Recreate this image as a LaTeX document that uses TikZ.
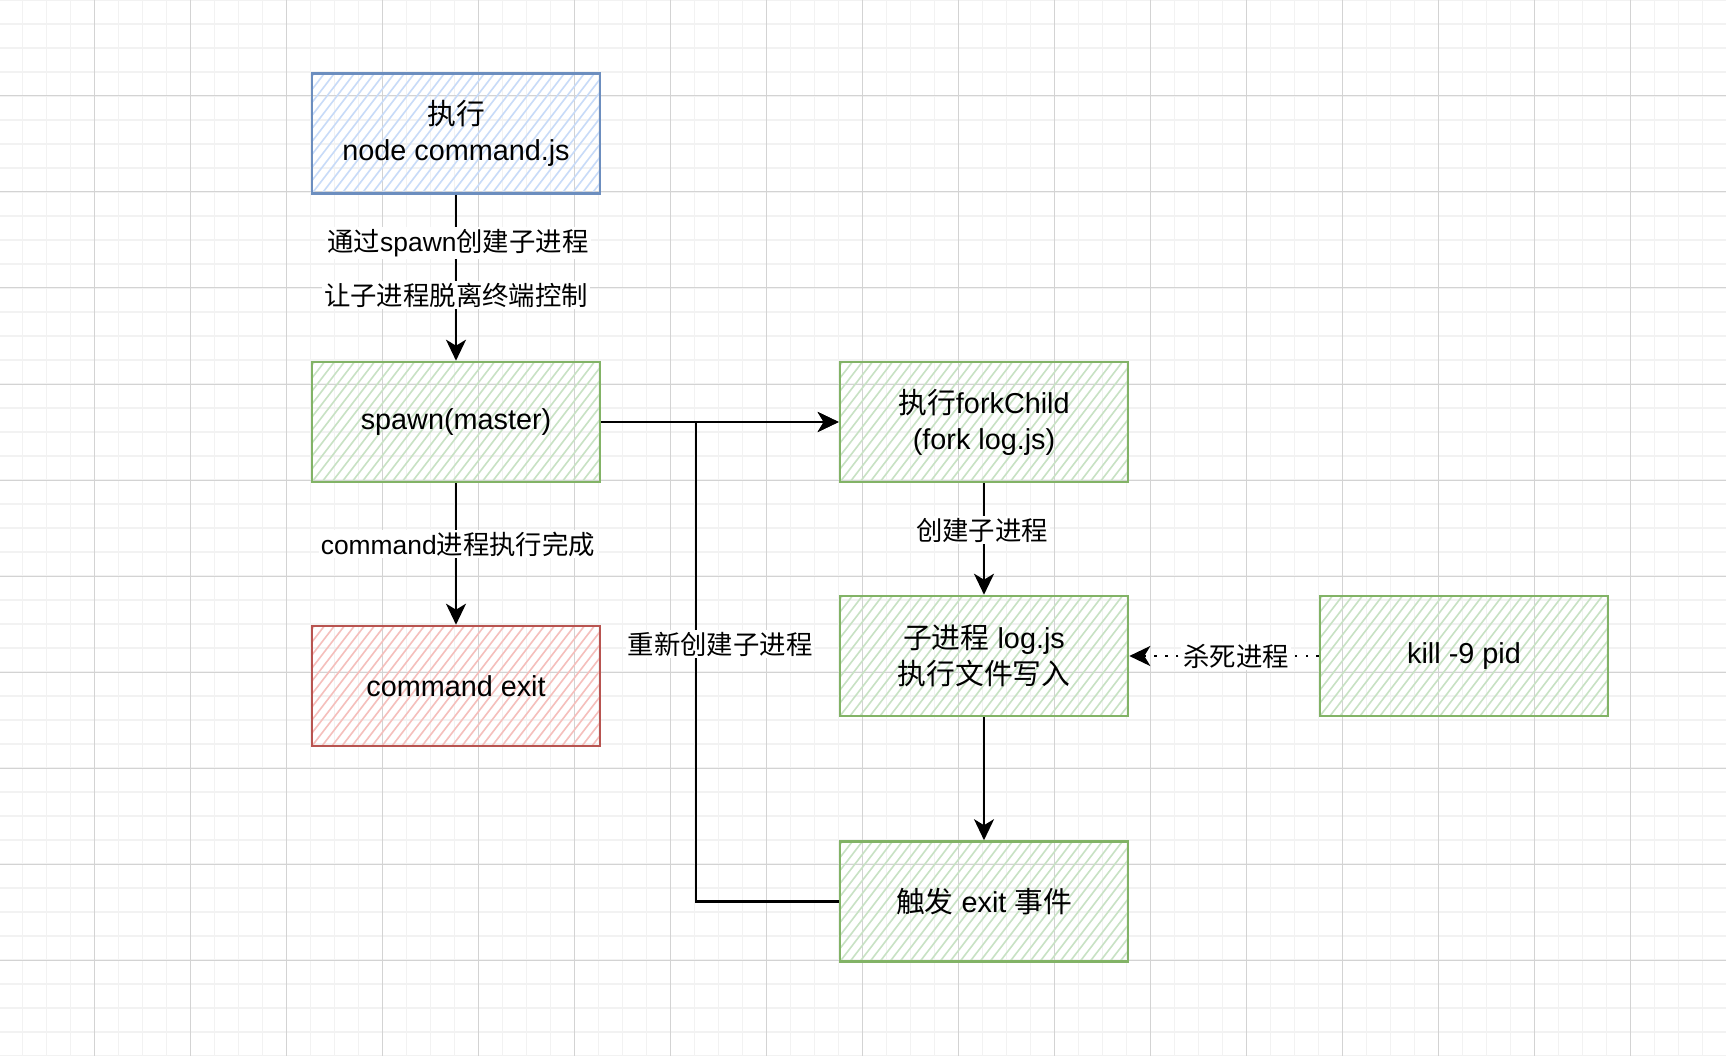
\documentclass[tikz,border=0pt]{standalone}
\usepackage{fontspec}
\setmainfont{Liberation Sans}
\newfontfamily\cjk{Noto Sans CJK SC}
\usetikzlibrary{arrows.meta}

\definecolor{gridmaj}{HTML}{D3D3D3}
\definecolor{gridmin}{HTML}{F2F2F2}
\definecolor{bstroke}{HTML}{6C8EBF}
\definecolor{bfill}{HTML}{C8DBF8}
\definecolor{gstroke}{HTML}{82B366}
\definecolor{gfill}{HTML}{C8E2C4}
\definecolor{rstroke}{HTML}{B85450}
\definecolor{rfill}{HTML}{F5BFBC}

\tikzset{
  box/.style={draw, line width=2.6pt, minimum width=288pt, minimum height=120pt,
    inner sep=0pt, align=center, font=\fontsize{28.8pt}{36pt}\selectfont},
  hatch/.style={path picture={
    \foreach \k in {-11,...,29}{
      \draw[line width=1.6pt, color=#1]
        ([xshift=\k*10pt]path picture bounding box.south west) -- ++(100pt,130pt);}}},
  bluebox/.style={box, draw=bstroke, hatch=bfill},
  greenbox/.style={box, draw=gstroke, hatch=gfill},
  redbox/.style={box, draw=rstroke, hatch=rfill},
  arr/.style={line width=2.4pt, -{Stealth[length=21pt, width=20pt, inset=6pt]}},
  dotarr/.style={line width=2.4pt, dash pattern=on 2.4pt off 8.4pt,
    -{Stealth[length=21pt, width=20pt, inset=6pt]}},
  lab/.style={fill=white, inner sep=2pt, font=\fontsize{26.4pt}{30pt}\selectfont},
}

\begin{document}
\begin{tikzpicture}[x=1pt, y=-1pt]
  \useasboundingbox (0,0) rectangle (1726,1056);
  \fill[white] (0,0) rectangle (1726,1056);
  % grid
  \foreach \k in {0,...,72}
    \draw[gridmin, line width=1.5pt] ({-1.5+24*\k},0) -- ({-1.5+24*\k},1056);
  \foreach \k in {0,...,44}
    \draw[gridmin, line width=1.5pt] (0,{24*\k}) -- (1726,{24*\k});
  \foreach \k in {0,...,18}
    \draw[gridmaj, line width=1pt] ({-1.5+96*\k},0) -- ({-1.5+96*\k},1056);
  \foreach \k in {0,...,11}
    \draw[gridmaj, line width=1pt] (0,{96*\k}) -- (1726,{96*\k});

  % boxes
  \node[bluebox] (run) at (456,133.5) {{\cjk 执行}\\node command.js};
  \node[greenbox] (spawn) at (456,422) {\raisebox{-2pt}{spawn(master)}};
  \node[redbox] (cmdexit) at (456,686) {command exit};
  \node[greenbox] (fork) at (984,422) {{\cjk 执行}forkChild\\(fork log.js)};
  \node[greenbox] (logjs) at (984,656) {{\cjk 子进程} log.js\\{\cjk 执行文件写入}};
  \node[greenbox] (exitev) at (984,901.5) {{\cjk 触发} exit {\cjk 事件}};
  \node[greenbox] (kill) at (1464,656) {kill -9 pid};

  \coordinate (jn) at (696,422);

  % connectors
  \draw[arr] (run) -- (spawn);
  \draw[arr] (spawn) -- (cmdexit);
  \draw[arr] (spawn) -- (fork);
  \draw[arr] (fork) -- (logjs);
  \draw[arr] (logjs) -- (exitev);
  \draw[arr] (exitev.west) -| (jn) -- (fork.west);
  \draw[dotarr] (kill.west) -- (logjs.east);

  % labels
  \node[lab] (l1) at (458,243) {{\cjk 通过}spawn{\cjk 创建子进程}};
  \node[lab] (l2) at (456,295) {{\cjk 让子进程脱离终端控制}};
  \node[lab] (l3) at (458,544) {command{\cjk 进程执行完成}};
  \node[lab] (l4) at (720,644) {{\cjk 重新创建子进程}};
  \node[lab] (l5) at (982,530) {{\cjk 创建子进程}};
  \node[lab] (l6) at (1236,656) {{\cjk 杀死进程}};
\end{tikzpicture}
\end{document}
